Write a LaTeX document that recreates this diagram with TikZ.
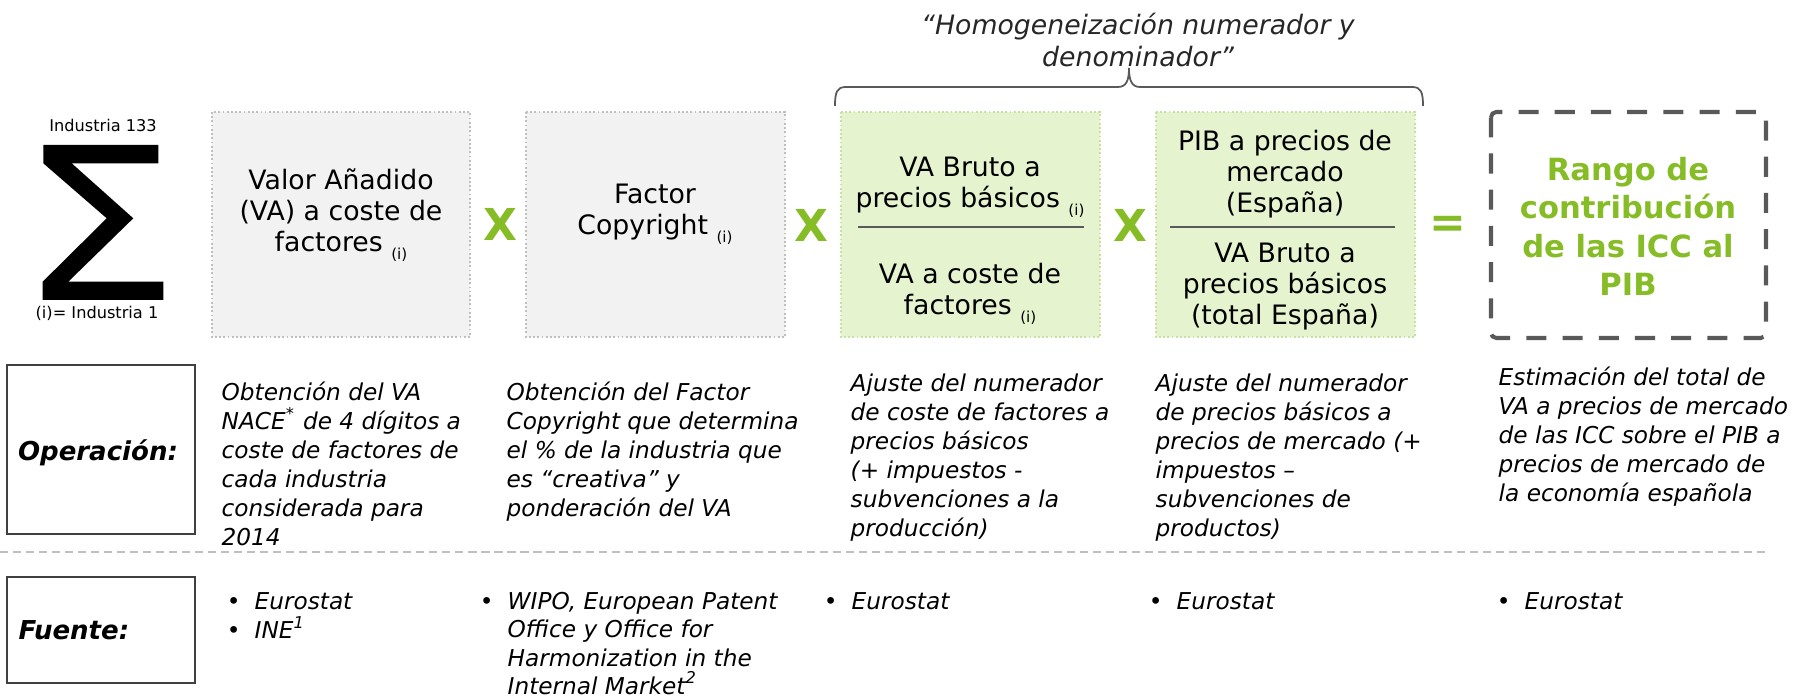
\documentclass[tikz,border=0pt]{standalone}
\usepackage{fontspec}
\setmainfont{DejaVu Sans}
\definecolor{boxfill}{HTML}{F2F2F2}
\definecolor{boxline}{HTML}{BFBFBF}
\definecolor{gfill}{HTML}{E5F4CF}
\definecolor{gline}{HTML}{C6E2A2}
\definecolor{icgreen}{HTML}{86BC25}
\definecolor{dgray}{HTML}{595959}
\definecolor{sgray}{HTML}{BFBFBF}
\newcommand\subi{\raisebox{-2.3pt}{\fontsize{4.3pt}{5pt}\selectfont(i)}}
\newcommand\bul{\llap{{\upshape •}\hspace{4pt}}}
\newcommand\supx[1]{\smash{\textsuperscript{#1}}}
\begin{document}
\begin{tikzpicture}[x=0.01cm,y=-0.01cm,
 graybox/.style={draw=boxline,fill=boxfill,line width=0.35pt,dash pattern=on 0.5pt off 0.7pt},
 greenbox/.style={draw=gline,fill=gfill,line width=0.35pt,dash pattern=on 0.5pt off 0.7pt},
 toptext/.style={font=\fontsize{7.6pt}{8.82pt}\selectfont,align=center,anchor=north,inner sep=0pt},
 lowtext/.style={font=\fontsize{6.6pt}{8.2pt}\selectfont\itshape,align=left,anchor=north west,inner sep=0pt},
 opsign/.style={font=\fontsize{12.5pt}{14pt}\selectfont\bfseries,text=icgreen,inner sep=0pt},
 rowbox/.style={draw=black!75,line width=0.4pt},
 rowlabel/.style={font=\fontsize{7.4pt}{9pt}\selectfont\bfseries\itshape,inner sep=0pt},
 smalllabel/.style={font=\fontsize{4.6pt}{5.5pt}\selectfont,inner sep=0pt},
 fracline/.style={draw=dgray,line width=0.5pt}]

\useasboundingbox (0,0) rectangle (1802,698);

% title and brace
\node[toptext,font=\fontsize{7.6pt}{9.1pt}\selectfont\itshape,text=black!85] (title) at (1138,11)
  {\strut“Homogeneización numerador y\\denominador”};
\draw[dgray,line width=0.5pt] (835,106) .. controls (835,92) and (837,87) .. (846,87) -- (1118,87)
  .. controls (1126,87) and (1129,81) .. (1129,68)
  .. controls (1129,81) and (1132,87) .. (1140,87) -- (1412,87)
  .. controls (1421,87) and (1423,92) .. (1423,106);

% sigma
\fill[black] (43.3,145) -- (158.3,145) -- (158.3,163.3) -- (71.7,163.3) -- (133.3,218.3)
  -- (68.3,281.7) -- (163.3,281.7) -- (163.3,300) -- (42.7,300) -- (42.7,281.7)
  -- (106.7,218.3) -- (43.3,163.3) -- cycle;
\node[smalllabel] (top) at (103,125) {Industria 133};
\node[smalllabel] (bot) at (97,313) {(i)= Industria 1};

% boxes
\path[graybox] (212,112) rectangle (470,337);
\path[graybox] (526,112) rectangle (785,337);
\path[greenbox] (841,112) rectangle (1100,337);
\path[greenbox] (1156,112) rectangle (1415,337);
\draw[dgray,line width=1.15pt,dash pattern=on 5.7pt off 4.6pt,rounded corners=1.5pt] (1491,112) rectangle (1766,338);

\node[toptext] (va) at (341,167) {\strut Valor Añadido\\(VA) a coste de\\factores \subi};
\node[toptext] (fc) at (655,181) {\strut Factor\\Copyright \subi};
\node[toptext] (n1) at (970,154) {\strut VA Bruto a\\precios básicos \subi};
\draw[fracline] (858,227) -- (1084,227);
\node[toptext] (d1) at (970,261) {\strut VA a coste de\\factores \subi};
\node[toptext] (n2) at (1285,128) {\strut PIB a precios de\\mercado\\(España)};
\draw[fracline] (1170,227) -- (1395,227);
\node[toptext] (d2) at (1285,240) {\strut VA Bruto a\\precios básicos\\(total España)};
\node[toptext,font=\fontsize{8.7pt}{10.9pt}\selectfont\bfseries,text=icgreen] (res) at (1628,153)
  {\strut Rango de\\contribución\\de las ICC al\\PIB};

\node[opsign] (x1) at (500,224) {X};
\node[opsign] (x2) at (811,225) {X};
\node[opsign] (x3) at (1130,225) {X};
\node[opsign] (eq) at (1448,227) {=};

% operation row
\draw[rowbox] (7,365) rectangle (195,534);
\node[rowlabel] (op) at (98,453) {Operación:};
\node[lowtext] (o1) at (221,380) {\strut Obtención del VA\\NACE\supx{*} de 4 dígitos a\\coste de factores de\\cada industria\\considerada para\\2014};
\node[lowtext] (o2) at (506,380) {\strut Obtención del Factor\\Copyright que determina\\el \% de la industria que\\es “creativa” y\\ponderación del VA};
\node[lowtext] (o3) at (850,371) {\strut Ajuste del numerador\\de coste de factores a\\precios básicos\\(+ impuestos -\\subvenciones a la\\producción)};
\node[lowtext] (o4) at (1155,371) {\strut Ajuste del numerador\\de precios básicos a\\precios de mercado (+\\impuestos –\\subvenciones de\\productos)};
\node[lowtext] (o5) at (1498,365) {\strut Estimación del total de\\VA a precios de mercado\\de las ICC sobre el PIB a\\precios de mercado de\\la economía española};

% separator
\draw[sgray,line width=0.6pt,dash pattern=on 2.3pt off 1.4pt] (0,552) -- (1769,552);

% source row
\draw[rowbox] (7,577) rectangle (195,683);
\node[rowlabel,anchor=west] (fu) at (18,630) {Fuente:};
\node[lowtext] (f1) at (254,589) {\strut\bul Eurostat\\\bul INE\supx{1}};
\node[lowtext,font=\fontsize{6.6pt}{8.05pt}\selectfont\itshape] (f2) at (507,589) {\strut\bul WIPO, European Patent\\Office y Office for\\Harmonization in the\\Internal Market\supx{2}};
\node[lowtext] (f3) at (851,589) {\strut\bul Eurostat};
\node[lowtext] (f4) at (1176,589) {\strut\bul Eurostat};
\node[lowtext] (f5) at (1524,589) {\strut\bul Eurostat};
\end{tikzpicture}
\end{document}
